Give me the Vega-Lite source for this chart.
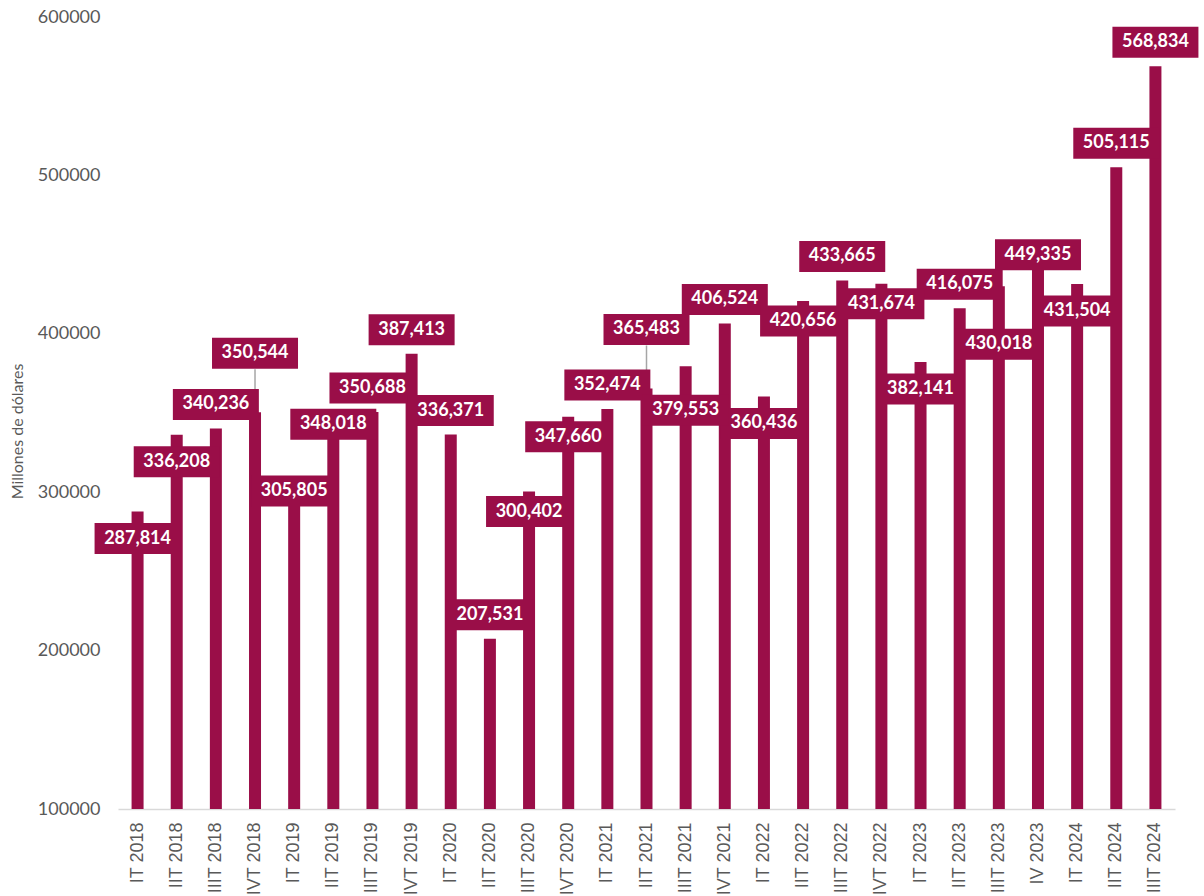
{
  "$schema": "https://vega.github.io/schema/vega-lite/v6.json",
  "autosize": "none",
  "width": 1057,
  "height": 792,
  "padding": {"left": 118, "top": 17, "right": 29, "bottom": 87},
  "background": "white",
  "config": {"view": {"stroke": null}},
  "data": {"values": [
    {"q": "IT 2018", "v": 287814},
    {"q": "IIT 2018", "v": 336208},
    {"q": "IIIT 2018", "v": 340236},
    {"q": "IVT 2018", "v": 350544},
    {"q": "IT 2019", "v": 305805},
    {"q": "IIT 2019", "v": 348018},
    {"q": "IIIT 2019", "v": 350688},
    {"q": "IVT 2019", "v": 387413},
    {"q": "IT 2020", "v": 336371},
    {"q": "IIT 2020", "v": 207531},
    {"q": "IIIT 2020", "v": 300402},
    {"q": "IVT 2020", "v": 347660},
    {"q": "IT 2021", "v": 352474},
    {"q": "IIT 2021", "v": 365483},
    {"q": "IIIT 2021", "v": 379553},
    {"q": "IVT 2021", "v": 406524},
    {"q": "IT 2022", "v": 360436},
    {"q": "IIT 2022", "v": 420656},
    {"q": "IIIT 2022", "v": 433665},
    {"q": "IVT 2022", "v": 431674},
    {"q": "IT 2023", "v": 382141},
    {"q": "IIT 2023", "v": 416075},
    {"q": "IIIT 2023", "v": 430018},
    {"q": "IV 2023", "v": 449335},
    {"q": "IT 2024", "v": 431504},
    {"q": "IIT 2024", "v": 505115},
    {"q": "IIIT 2024", "v": 568834}
  ]},
  "encoding": {
    "x": {"field": "q", "type": "nominal", "sort": null,
      "scale": {"paddingInner": 0, "paddingOuter": 0},
      "axis": {"title": null, "labelAngle": -90, "labelFont": "Liberation Sans", "labelFontSize": 18, "labelColor": "#595959", "labelPadding": 13, "ticks": false, "domainColor": "#D9D9D9", "domainWidth": 1.5, "labelOverlap": false, "grid": false}}
  },
  "layer": [
    {
      "mark": {"type": "bar", "width": 12, "color": "#9A0E48"},
      "encoding": {
        "y": {"field": "v", "type": "quantitative",
          "scale": {"domain": [100000, 600000], "zero": false, "nice": false},
          "axis": {"title": "Millones de dólares", "titleFont": "Lato", "titleFontSize": 16, "titleFontWeight": "normal", "titleColor": "#595959", "titleX": -93, "titleY": 414, "titleAngle": -90, "titleAlign": "center", "titleBaseline": "bottom", "values": [100000, 200000, 300000, 400000, 500000, 600000], "format": "d", "labelFont": "Lato", "labelFontSize": 18, "labelColor": "#595959", "labelPadding": 18, "ticks": false, "domain": false, "grid": false}},
        "y2": {"datum": 100000}
      }
    },
    {
      "transform": [{"filter": {"field": "q", "oneOf": ["IVT 2018", "IIT 2021"]}}],
      "mark": {"type": "rule", "color": "#A6A6A6", "strokeWidth": 1.5, "y2Offset": -43},
      "encoding": {"y": {"field": "v", "type": "quantitative"}, "y2": {"field": "v"}}
    },
    {
      "transform": [{"filter": {"field": "q", "oneOf": ["IVT 2018", "IIT 2021"]}}],
      "mark": {"type": "bar", "width": 86, "color": "#9A0E48", "yOffset": -74.5, "y2Offset": -43.5},
      "encoding": {"y": {"field": "v", "type": "quantitative"}, "y2": {"field": "v"}}
    },
    {
      "transform": [{"filter": {"field": "q", "oneOf": ["IIIT 2018", "IIIT 2019", "IVT 2019", "IT 2020", "IIT 2020", "IT 2021", "IVT 2021", "IIIT 2022", "IIT 2023", "IIT 2024", "IIIT 2024"]}}],
      "mark": {"type": "bar", "width": 86, "color": "#9A0E48", "yOffset": -39.5, "y2Offset": -8.5},
      "encoding": {"y": {"field": "v", "type": "quantitative"}, "y2": {"field": "v"}}
    },
    {
      "transform": [{"filter": {"field": "q", "oneOf": ["IT 2019", "IIT 2019"]}}],
      "mark": {"type": "bar", "width": 86, "color": "#9A0E48", "yOffset": -7.5, "y2Offset": 23.5},
      "encoding": {"y": {"field": "v", "type": "quantitative"}, "y2": {"field": "v"}}
    },
    {
      "transform": [{"filter": {"field": "q", "oneOf": ["IV 2023"]}}],
      "mark": {"type": "bar", "width": 86, "color": "#9A0E48", "yOffset": -16.5, "y2Offset": 14.5},
      "encoding": {"y": {"field": "v", "type": "quantitative"}, "y2": {"field": "v"}}
    },
    {
      "transform": [{"filter": {"field": "q", "oneOf": ["IIIT 2020", "IVT 2020", "IIT 2022", "IVT 2022"]}}],
      "mark": {"type": "bar", "width": 86, "color": "#9A0E48", "yOffset": 4.5, "y2Offset": 35.5},
      "encoding": {"y": {"field": "v", "type": "quantitative"}, "y2": {"field": "v"}}
    },
    {
      "transform": [{"filter": {"field": "q", "oneOf": ["IT 2018", "IIT 2018", "IT 2022", "IT 2023", "IT 2024"]}}],
      "mark": {"type": "bar", "width": 86, "color": "#9A0E48", "yOffset": 11.5, "y2Offset": 42.5},
      "encoding": {"y": {"field": "v", "type": "quantitative"}, "y2": {"field": "v"}}
    },
    {
      "transform": [{"filter": {"field": "q", "oneOf": ["IIIT 2021"]}}],
      "mark": {"type": "bar", "width": 86, "color": "#9A0E48", "yOffset": 28.5, "y2Offset": 59.5},
      "encoding": {"y": {"field": "v", "type": "quantitative"}, "y2": {"field": "v"}}
    },
    {
      "transform": [{"filter": {"field": "q", "oneOf": ["IIIT 2023"]}}],
      "mark": {"type": "bar", "width": 86, "color": "#9A0E48", "yOffset": 42.5, "y2Offset": 73.5},
      "encoding": {"y": {"field": "v", "type": "quantitative"}, "y2": {"field": "v"}}
    },
    {
      "transform": [{"filter": {"field": "q", "oneOf": ["IVT 2018", "IIT 2021"]}}],
      "mark": {"type": "text", "font": "Lato", "fontWeight": "bold", "fontSize": 18, "color": "white", "baseline": "middle", "yOffset": -59},
      "encoding": {"y": {"field": "v", "type": "quantitative"}, "text": {"field": "v", "type": "quantitative", "format": ","}}
    },
    {
      "transform": [{"filter": {"field": "q", "oneOf": ["IIIT 2018", "IIIT 2019", "IVT 2019", "IT 2020", "IIT 2020", "IT 2021", "IVT 2021", "IIIT 2022", "IIT 2023", "IIT 2024", "IIIT 2024"]}}],
      "mark": {"type": "text", "font": "Lato", "fontWeight": "bold", "fontSize": 18, "color": "white", "baseline": "middle", "yOffset": -24},
      "encoding": {"y": {"field": "v", "type": "quantitative"}, "text": {"field": "v", "type": "quantitative", "format": ","}}
    },
    {
      "transform": [{"filter": {"field": "q", "oneOf": ["IT 2019", "IIT 2019"]}}],
      "mark": {"type": "text", "font": "Lato", "fontWeight": "bold", "fontSize": 18, "color": "white", "baseline": "middle", "yOffset": 8},
      "encoding": {"y": {"field": "v", "type": "quantitative"}, "text": {"field": "v", "type": "quantitative", "format": ","}}
    },
    {
      "transform": [{"filter": {"field": "q", "oneOf": ["IV 2023"]}}],
      "mark": {"type": "text", "font": "Lato", "fontWeight": "bold", "fontSize": 18, "color": "white", "baseline": "middle", "yOffset": -1},
      "encoding": {"y": {"field": "v", "type": "quantitative"}, "text": {"field": "v", "type": "quantitative", "format": ","}}
    },
    {
      "transform": [{"filter": {"field": "q", "oneOf": ["IIIT 2020", "IVT 2020", "IIT 2022", "IVT 2022"]}}],
      "mark": {"type": "text", "font": "Lato", "fontWeight": "bold", "fontSize": 18, "color": "white", "baseline": "middle", "yOffset": 20},
      "encoding": {"y": {"field": "v", "type": "quantitative"}, "text": {"field": "v", "type": "quantitative", "format": ","}}
    },
    {
      "transform": [{"filter": {"field": "q", "oneOf": ["IT 2018", "IIT 2018", "IT 2022", "IT 2023", "IT 2024"]}}],
      "mark": {"type": "text", "font": "Lato", "fontWeight": "bold", "fontSize": 18, "color": "white", "baseline": "middle", "yOffset": 27},
      "encoding": {"y": {"field": "v", "type": "quantitative"}, "text": {"field": "v", "type": "quantitative", "format": ","}}
    },
    {
      "transform": [{"filter": {"field": "q", "oneOf": ["IIIT 2021"]}}],
      "mark": {"type": "text", "font": "Lato", "fontWeight": "bold", "fontSize": 18, "color": "white", "baseline": "middle", "yOffset": 44},
      "encoding": {"y": {"field": "v", "type": "quantitative"}, "text": {"field": "v", "type": "quantitative", "format": ","}}
    },
    {
      "transform": [{"filter": {"field": "q", "oneOf": ["IIIT 2023"]}}],
      "mark": {"type": "text", "font": "Lato", "fontWeight": "bold", "fontSize": 18, "color": "white", "baseline": "middle", "yOffset": 58},
      "encoding": {"y": {"field": "v", "type": "quantitative"}, "text": {"field": "v", "type": "quantitative", "format": ","}}
    }
  ]
}
